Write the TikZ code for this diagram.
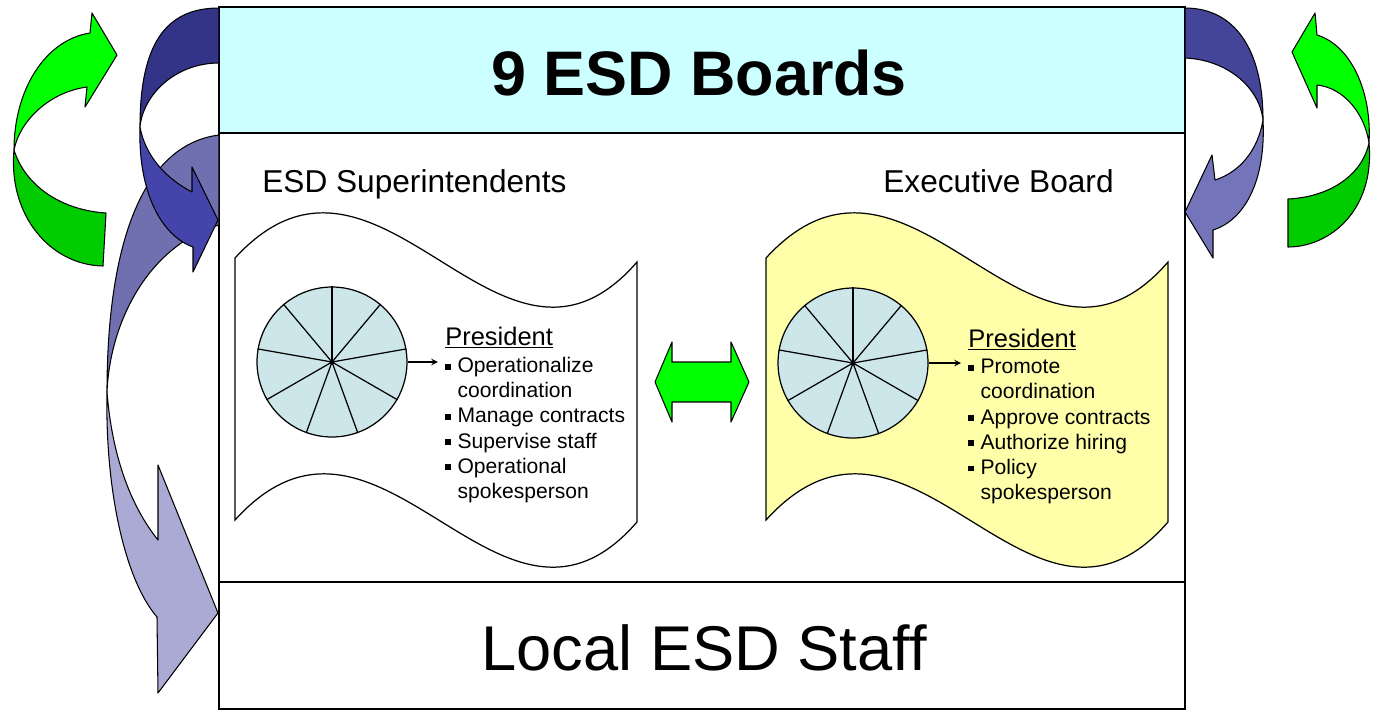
\documentclass[tikz,border=0pt]{standalone}
\usepackage{fontspec}
\setmainfont{Liberation Sans}
\usetikzlibrary{positioning}

\definecolor{bandcyan}{HTML}{CCFFFF}
\definecolor{flagyellow}{HTML}{FFFFAA}
\definecolor{pieblue}{HTML}{CCE6EA}
\definecolor{greenhi}{HTML}{00FF00}
\definecolor{greenlo}{HTML}{00CC00}
\definecolor{navyhi}{HTML}{333388}
\definecolor{navylo}{HTML}{4444AA}
\definecolor{slatehi}{HTML}{7070B0}
\definecolor{slatelo}{HTML}{AAAAD5}
\definecolor{navyR}{HTML}{444499}
\definecolor{slateR}{HTML}{7474BA}

\newcommand{\sqbul}{\rule[0.14em]{0.28em}{0.28em}\hspace{0.3em}}
\newcommand{\sqgap}{\hphantom{\sqbul}}

\tikzset{
  frame/.style={line width=0.9pt},
  flag/.style={line width=0.7pt},
  swirl/.style={draw, line width=0.6pt, line join=round},
  pie/.style={circle, draw, fill=pieblue, minimum size=3cm, inner sep=0pt, line width=0.7pt},
  heading/.style={font=\fontsize{14.5}{16}\selectfont, inner sep=0pt},
  items/.style={font=\fontsize{12}{14.3}\selectfont, align=left, inner sep=0pt},
  caption/.style={font=\fontsize{18}{20}\selectfont, inner sep=0pt}
}

\begin{document}
\begin{tikzpicture}[x=0.02cm, y=-0.02cm]
\useasboundingbox (0,0) rectangle (1379,711);

% outer frame with the boards band on top
\filldraw[frame, fill=bandcyan] (219,7) rectangle (1185,133);
\draw[frame] (219,7) rectangle (1185,709);
\draw[frame] (219,582) -- (1185,582);

\node[font=\fontsize{35.8}{40}\selectfont\bfseries] (boards) at (699,73) {9 ESD Boards};
\node[font=\fontsize{36}{40}\selectfont] (staff) at (704,648) {Local ESD Staff};

% left side: pale arrow down to the staff
\path[swirl, fill=slatehi] (219,135) .. controls (140,145) and (107,250) .. (107,392)
  .. controls (110,320) and (150,245) .. (219,225) -- cycle;
\path[swirl, fill=slatelo] (107,392) .. controls (105,490) and (125,580) .. (157,617)
  -- (158,693) -- (218,613) -- (158,465) -- (158,540)
  .. controls (130,505) and (112,455) .. (107,392) -- cycle;

% left side: boards loop back into the middle
\path[swirl, fill=navyhi] (219,8) .. controls (165,8) and (140,45) .. (140,127)
  .. controls (143,95) and (175,63) .. (219,63) -- cycle;
\path[swirl, fill=navylo] (140,127) .. controls (138,190) and (160,235) .. (193,247)
  -- (193,272) -- (218,220) -- (192,167) -- (192,192)
  .. controls (165,178) and (145,155) .. (140,127) -- cycle;

% left green cycle
\path[swirl, fill=greenhi] (14,150) .. controls (14,90) and (45,40) .. (90,33)
  -- (92,13) -- (117,55) -- (85,107) -- (87,87)
  .. controls (50,92) and (20,120) .. (14,150) -- cycle;
\path[swirl, fill=greenlo] (14,150) .. controls (8,215) and (50,265) .. (103,266)
  -- (106,213) .. controls (60,210) and (25,185) .. (14,150) -- cycle;

% right side loop
\path[swirl, fill=navyR] (1185,8) .. controls (1235,8) and (1263,50) .. (1263,120)
  .. controls (1260,90) and (1230,60) .. (1185,58) -- cycle;
\path[swirl, fill=slateR] (1263,120) .. controls (1266,180) and (1245,220) .. (1213,230)
  -- (1213,258) -- (1185,212) -- (1212,155) -- (1215,180)
  .. controls (1240,172) and (1258,150) .. (1263,120) -- cycle;

% right green cycle
\path[swirl, fill=greenhi] (1369,143) .. controls (1372,90) and (1350,45) .. (1317,35)
  -- (1315,13) -- (1292,52) -- (1317,108) -- (1317,85)
  .. controls (1345,88) and (1365,115) .. (1369,143) -- cycle;
\path[swirl, fill=greenlo] (1369,143) .. controls (1375,210) and (1330,247) .. (1288,247)
  -- (1288,199) .. controls (1330,197) and (1362,175) .. (1369,143) -- cycle;

% the two flags
\foreach \dx/\fillc in {0/white, 531/flagyellow}
  \filldraw[flag, fill=\fillc, shift={(\dx,0)}]
    (235,258) .. controls (380,100) and (500,420) .. (637,262)
    -- (637,522) .. controls (500,680) and (380,360) .. (235,520) -- cycle;

\node[caption, anchor=base west] (supLbl) at (262,192) {ESD Superintendents};
\node[caption, anchor=base west] (execLbl) at (883,192) {Executive Board};

% pies with nine slices
\node[pie] (pieL) at (332,362) {};
\node[pie] (pieR) at (853,363) {};
\foreach \a in {10,50,...,330} {
  \draw[line width=0.7pt] (pieL.center) -- (pieL.\a);
  \draw[line width=0.7pt] (pieR.center) -- (pieR.\a);
}
\fill (pieL.center) circle (2.5);
\fill (pieR.center) circle (2.5);

% president duties
\node[heading, anchor=base west] (presL) at (445,345) {\underline{President}};
\node[items, anchor=north west] (listL) at (445,357) {\sqbul Operationalize\\
  \sqgap coordination\\
  \sqbul Manage contracts\\
  \sqbul Supervise staff\\
  \sqbul Operational\\
  \sqgap spokesperson};

\node[heading, anchor=base west] (presR) at (968,347) {\underline{President}};
\node[items, anchor=north west] (listR) at (968,359) {\sqbul Promote\\
  \sqgap coordination\\
  \sqbul Approve contracts\\
  \sqbul Authorize hiring\\
  \sqbul Policy\\
  \sqgap spokesperson};

\draw[->, >=stealth, line width=0.7pt, shorten >=4pt] (pieL.east) -- (pieL.east -| listL.west);
\draw[->, >=stealth, line width=0.7pt, shorten >=4pt] (pieR.east) -- (pieR.east -| listR.west);

% two-way arrow between the flags
\filldraw[swirl, fill=greenhi] (655,382) -- (672,342) -- (672,362) -- (731,362) -- (731,342)
  -- (749,382) -- (731,422) -- (731,402) -- (672,402) -- (672,422) -- cycle;

\end{tikzpicture}
\end{document}
